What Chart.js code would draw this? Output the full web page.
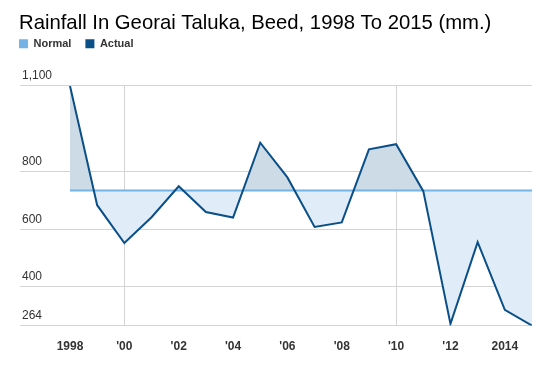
<!DOCTYPE html>
<html>
<head>
<meta charset="utf-8">
<title>Rainfall In Georai Taluka, Beed</title>
<script src="https://cdn.jsdelivr.net/npm/chart.js@4.4.1/dist/chart.umd.min.js"></script>
<style>
    html, body { margin: 0; padding: 0; background: #fff; }
    canvas { display: block; }
</style>
</head>
<body>
<canvas id="rainChart" width="555" height="391"></canvas>
<script>
// Rainfall per year, mm.
const years = [1998, 1999, 2000, 2001, 2002, 2003, 2004, 2005, 2006, 2007, 2008, 2009, 2010, 2011, 2012, 2013, 2014, 2015];
const actualRain = [1100, 684, 552, 642, 750, 660, 641, 902, 781, 608, 624, 879, 897, 733, 270, 555, 319, 264];
const normalRain = [735, 735, 735, 735, 735, 735, 735, 735, 735, 735, 735, 735, 735, 735, 735, 735, 735, 735];

// Axis ticks
const yTicks = [264, 400, 600, 800, 1100];
const xTickYears = [1998, 2000, 2002, 2004, 2006, 2008, 2010, 2012, 2014];
const xTickLabels = ['1998', "'00", "'02", "'04", "'06", "'08", "'10", "'12", '2014'];
const xGridYears = [2000, 2010];

const actualColor = '#0a4f88';
const normalColor = '#74b3e6';

// move the legend up under the title and flush left with it
const legendNudge = {
    id: 'legendNudge',
    afterLayout(chart) {
        chart.legend.left -= 14;
        chart.legend.top -= 26.6;
    }
};

const ctx = document.getElementById('rainChart').getContext('2d');
const rainChart = new Chart(ctx, {
    type: 'line',
    data: {
        datasets: [
            {
                label: 'Normal',
                data: years.map((y, i) => ({ x: y, y: normalRain[i] })),
                borderColor: normalColor,
                backgroundColor: normalColor,
                borderWidth: 2,
                pointRadius: 0,
                fill: false,
                order: 1,
            },
            {
                label: 'Actual',
                data: years.map((y, i) => ({ x: y, y: actualRain[i] })),
                borderColor: actualColor,
                backgroundColor: actualColor,
                borderWidth: 2,
                pointRadius: 0,
                fill: {
                    target: 0,
                    above: '#cddbe6',
                    below: '#e0edf8',
                },
                order: 0,
            },
        ]
    },
    options: {
        responsive: false,
        animation: false,
        layout: {
            padding: { left: 19, right: 23, top: 0, bottom: 23 }
        },
        plugins: {
            filler: { drawTime: 'beforeDatasetsDraw' },
            tooltip: { enabled: false },
            title: {
                display: true,
                text: 'Rainfall In Georai Taluka, Beed, 1998 To 2015 (mm.)',
                align: 'start',
                color: '#000',
                font: { family: "'Liberation Sans', Arial, sans-serif", size: 20.3, weight: 'normal' },
                padding: { top: 11.5, bottom: 15.1 },
            },
            legend: {
                display: true,
                align: 'start',
                labels: {
                    boxWidth: 9,
                    boxHeight: 9,
                    padding: 14,
                    color: '#333',
                    font: { family: "'Liberation Sans', Arial, sans-serif", size: 11, weight: 'bold' },
                    sort: (a, b) => a.datasetIndex - b.datasetIndex,
                    generateLabels: (chart) => Chart.defaults.plugins.legend.labels.generateLabels(chart)
                        .map(item => Object.assign(item, { lineWidth: 0 })),
                },
            },
        },
        scales: {
            x: {
                type: 'linear',
                min: 1996.16,
                max: 2015,
                afterBuildTicks: (scale) => {
                    scale.ticks = xTickYears.map(v => ({ value: v }));
                },
                ticks: {
                    autoSkip: false,
                    maxRotation: 0,
                    padding: 14,
                    color: '#333',
                    font: { family: "'Liberation Sans', Arial, sans-serif", size: 12, weight: 'bold' },
                    callback: (value, index) => xTickLabels[index],
                },
                grid: {
                    drawTicks: false,
                    color: (c) => (c.tick && xGridYears.includes(c.tick.value)) ? '#d4d4d4' : 'rgba(0,0,0,0)',
                },
                border: { display: false },
            },
            y: {
                min: 264,
                max: 1100,
                afterBuildTicks: (scale) => {
                    scale.ticks = yTicks.map(v => ({ value: v }));
                },
                afterFit: (scale) => {
                    scale.width = 1;
                },
                ticks: {
                    mirror: true,
                    padding: 2,
                    labelOffset: -10,
                    autoSkip: false,
                    color: '#333',
                    font: { family: "'Liberation Sans', Arial, sans-serif", size: 12 },
                    callback: (value) => value.toLocaleString('en-US'),
                },
                grid: {
                    drawTicks: false,
                    color: '#d4d4d4',
                },
                border: { display: false },
            },
        },
    },
    plugins: [legendNudge],
});
</script>
</body>
</html>
